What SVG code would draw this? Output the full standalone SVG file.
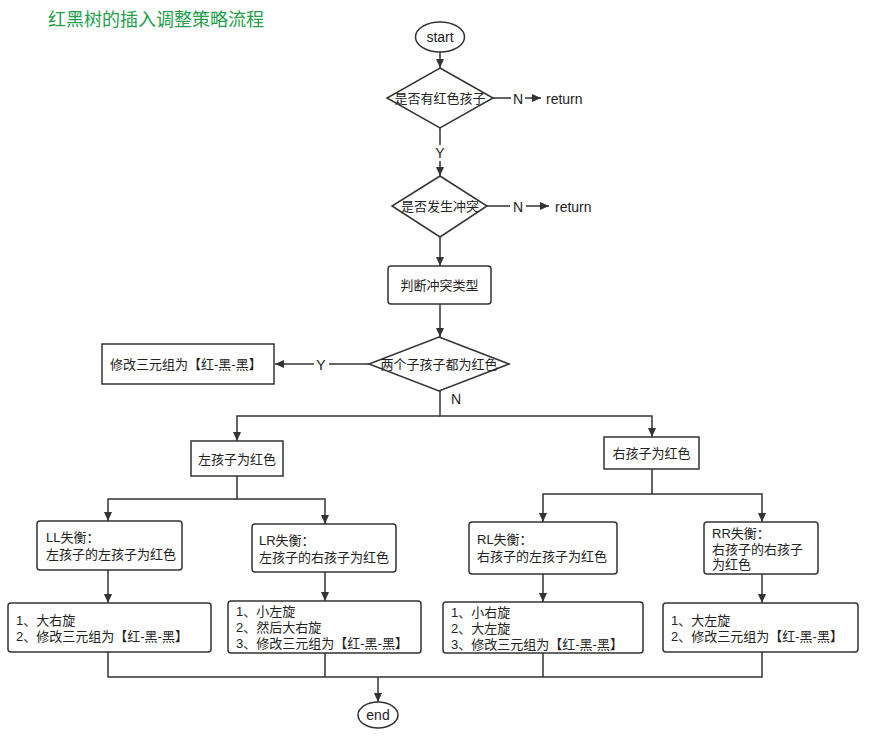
<svg xmlns="http://www.w3.org/2000/svg" width="894" height="749" viewBox="0 0 894 749">
<style>
.s{fill:#fff;stroke:#333;stroke-width:1.5}
.t{font-family:"Liberation Sans","Noto Sans CJK SC",sans-serif;font-size:13px;fill:#222;dominant-baseline:central}
.e{font-size:14px}
.c{text-anchor:middle}
.l{fill:none;stroke:#333;stroke-width:1.5}
.title{font-family:"Noto Sans CJK SC",sans-serif;font-size:18px;fill:#22a04b}
</style>
<defs>
<marker id="a" markerUnits="userSpaceOnUse" markerWidth="10" markerHeight="8" refX="9" refY="4" orient="auto">
<path d="M0,0 L9,4 L0,8 Z" fill="#333"/>
</marker>
</defs>
<rect width="894" height="749" fill="#fff"/>
<text class="title" x="48" y="26">红黑树的插入调整策略流程</text>

<g id="connectors">
<path class="l" d="M440,52 V68" marker-end="url(#a)"/>
<path class="l" d="M493,98 H511"/>
<text class="t e c" x="518" y="99">N</text>
<path class="l" d="M525,98 H541" marker-end="url(#a)"/>
<path class="l" d="M440,128 V145"/>
<text class="t e c" x="440" y="153">Y</text>
<path class="l" d="M440,161 V176" marker-end="url(#a)"/>
<path class="l" d="M487,206 H510"/>
<text class="t e c" x="518" y="207">N</text>
<path class="l" d="M526,206 H549" marker-end="url(#a)"/>
<path class="l" d="M440,237 V266" marker-end="url(#a)"/>
<path class="l" d="M440,304 V337" marker-end="url(#a)"/>
<path class="l" d="M369,364 H329"/>
<text class="t e c" x="321" y="365">Y</text>
<path class="l" d="M314,364 H275" marker-end="url(#a)"/>
<text class="t e c" x="456" y="399">N</text>
<path class="l" d="M440,391 V416 H652 V437" marker-end="url(#a)"/>
<path class="l" d="M440,416 H237 V441" marker-end="url(#a)"/>
<path class="l" d="M237,476 V499 H325 V524" marker-end="url(#a)"/>
<path class="l" d="M237,499 H108 V521" marker-end="url(#a)"/>
<path class="l" d="M652,469 V494 H762 V522" marker-end="url(#a)"/>
<path class="l" d="M652,494 H543 V522" marker-end="url(#a)"/>
<path class="l" d="M108,570 V603" marker-end="url(#a)"/>
<path class="l" d="M325,572 V601" marker-end="url(#a)"/>
<path class="l" d="M543,574 V602" marker-end="url(#a)"/>
<path class="l" d="M762,574 V603" marker-end="url(#a)"/>
<path class="l" d="M108,652 V677 H762 V652"/>
<path class="l" d="M325,653 V677"/>
<path class="l" d="M543,653 V677"/>
<path class="l" d="M378,677 V702" marker-end="url(#a)"/>
</g>

<g id="start">
<ellipse class="s" cx="440" cy="37" rx="24.5" ry="15"/>
<text class="t e c" x="440" y="37">start</text>
</g>
<g id="d1">
<polygon class="s" points="440,68 493,98 440,128 387,98"/>
<text class="t c" x="440" y="98">是否有红色孩子</text>
</g>
<g id="ret1"><text class="t e" x="546" y="99">return</text></g>
<g id="d2">
<polygon class="s" points="440,176 487,206 440,237 392,206"/>
<text class="t c" x="440" y="206">是否发生冲突</text>
</g>
<g id="ret2"><text class="t e" x="555" y="207">return</text></g>
<g id="judge">
<rect class="s" x="388" y="266" width="103" height="38" rx="3"/>
<text class="t c" x="439.5" y="285">判断冲突类型</text>
</g>
<g id="d3">
<polygon class="s" points="439,337 509,364 439,391 369,364"/>
<text class="t c" x="439" y="364">两个子孩子都为红色</text>
</g>
<g id="recolor">
<rect class="s" x="102" y="344" width="172" height="40"/>
<text class="t" x="110" y="364">修改三元组为【红-黑-黑】</text>
</g>
<g id="leftRed">
<rect class="s" x="191" y="441" width="92" height="35"/>
<text class="t c" x="237" y="459">左孩子为红色</text>
</g>
<g id="rightRed">
<rect class="s" x="604" y="437" width="95" height="32"/>
<text class="t c" x="651.5" y="453">右孩子为红色</text>
</g>
<g id="LL">
<rect class="s" x="37" y="521" width="145" height="49" rx="3"/>
<text class="t" x="46" y="537">LL失衡：</text>
<text class="t" x="46" y="554">左孩子的左孩子为红色</text>
</g>
<g id="LR">
<rect class="s" x="252" y="524" width="144" height="48" rx="3"/>
<text class="t" x="259" y="540">LR失衡：</text>
<text class="t" x="259" y="557">左孩子的右孩子为红色</text>
</g>
<g id="RL">
<rect class="s" x="469" y="522" width="148" height="52" rx="3"/>
<text class="t" x="477" y="539">RL失衡：</text>
<text class="t" x="477" y="556">右孩子的左孩子为红色</text>
</g>
<g id="RR">
<rect class="s" x="704" y="522" width="114" height="52" rx="3"/>
<text class="t" x="712" y="533">RR失衡：</text>
<text class="t" x="712" y="549">右孩子的右孩子</text>
<text class="t" x="712" y="564">为红色</text>
</g>
<g id="opLL">
<rect class="s" x="8" y="603" width="203" height="49" rx="3"/>
<text class="t" x="16" y="620">1、大右旋</text>
<text class="t" x="16" y="636">2、修改三元组为【红-黑-黑】</text>
</g>
<g id="opLR">
<rect class="s" x="228" y="601" width="193" height="52" rx="3"/>
<text class="t" x="236" y="611">1、小左旋</text>
<text class="t" x="236" y="627">2、然后大右旋</text>
<text class="t" x="236" y="643">3、修改三元组为【红-黑-黑】</text>
</g>
<g id="opRL">
<rect class="s" x="443" y="602" width="200" height="51" rx="3"/>
<text class="t" x="451" y="612">1、小右旋</text>
<text class="t" x="451" y="628">2、大左旋</text>
<text class="t" x="451" y="644">3、修改三元组为【红-黑-黑】</text>
</g>
<g id="opRR">
<rect class="s" x="663" y="603" width="195" height="49" rx="3"/>
<text class="t" x="671" y="620">1、大左旋</text>
<text class="t" x="671" y="636">2、修改三元组为【红-黑-黑】</text>
</g>
<g id="end">
<ellipse class="s" cx="378" cy="715" rx="20" ry="13"/>
<text class="t e c" x="378" y="715">end</text>
</g>
</svg>
